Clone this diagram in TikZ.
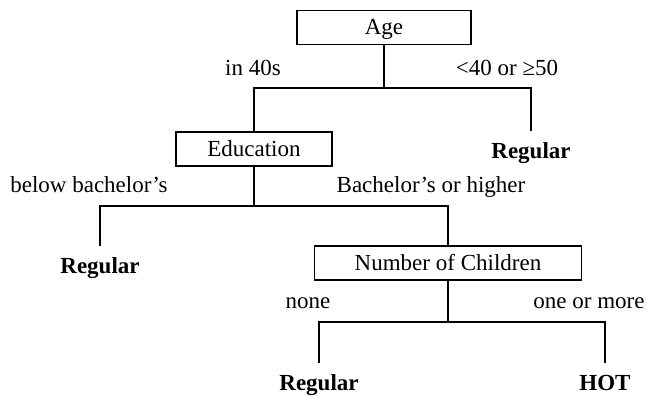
\documentclass[tikz,border=0pt]{standalone}
\usepackage{fontspec}
\setmainfont{Liberation Serif}
\begin{document}
\begin{tikzpicture}[x=1pt,y=-1pt,
  every node/.style={font=\fontsize{23}{27}\selectfont},
  box/.style={draw,line width=1.6pt,inner sep=0pt,text height=15pt,text depth=0pt,minimum height=34pt},
  leaf/.style={font=\fontsize{23}{27}\selectfont\bfseries,anchor=base,text height=16pt,inner ysep=11pt,inner xsep=0pt},
  lbl/.style={anchor=base,inner sep=0pt},
  conn/.style={line width=1.6pt}]
\useasboundingbox (0,0) rectangle (649,396);
% boxes
\node[box,minimum width=174pt] (age) at (384,27.5) {Age};
\node[box,minimum width=156pt] (edu) at (254,149) {Education};
\node[box,minimum width=267pt] (noc) at (448,263) {Number of Children};
% leaves
\node[leaf] (reg1) at (531,158) {Regular};
\node[leaf] (reg2) at (100,273) {Regular};
\node[leaf] (reg3) at (319,390) {Regular};
\node[leaf] (hot) at (605,390) {HOT};
% junctions
\coordinate (j1) at (384,88);
\coordinate (j2) at (254,206);
\coordinate (j3) at (448,322);
% connectors
\draw[conn] (age.south) -- (j1);
\draw[conn] (edu.north) |- (j1) -| (reg1.north);
\draw[conn] (edu.south) -- (j2);
\draw[conn] (reg2.north) |- (j2) -| (noc.north);
\draw[conn] (noc.south) -- (j3);
\draw[conn] (reg3.north) |- (j3) -| (hot.north);
% labels
\node[lbl] (l1) at (253,76) {in 40s};
\node[lbl] (l2) at (507,76) {<40 or ≥50};
\node[lbl] (l3) at (89,193) {below bachelor’s};
\node[lbl] (l4) at (431,193) {Bachelor’s or higher};
\node[lbl] (l5) at (308,308) {none};
\node[lbl] (l6) at (589,308) {one or more};
\end{tikzpicture}
\end{document}
